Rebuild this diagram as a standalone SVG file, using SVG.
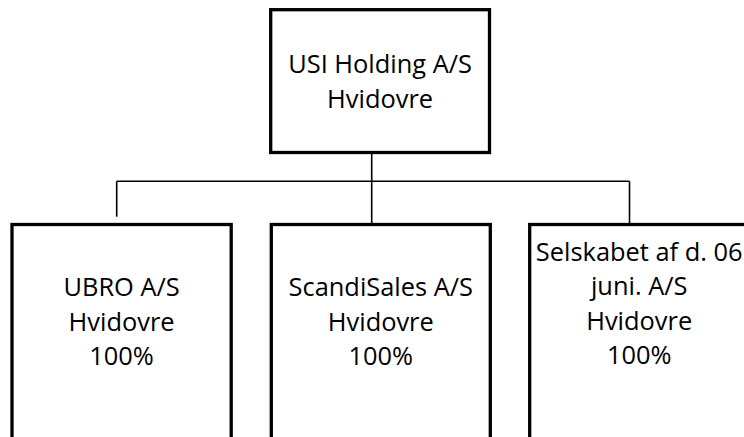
<svg xmlns="http://www.w3.org/2000/svg" width="744" height="437" viewBox="0 0 744 437">
  <style>
    .box { fill: #ffffff; stroke: #000000; stroke-width: 3.3; }
    .conn { fill: none; stroke: #000000; stroke-width: 1.6; }
    .lbl { font-family: "Open Sans", "Noto Sans", "DejaVu Sans", sans-serif; font-size: 25.4px; fill: #000000; text-anchor: middle; }
  </style>
  <rect width="744" height="437" fill="#ffffff"/>
  <g id="connectors">
    <path class="conn" d="M371.7,152.5 V224.5"/>
    <path class="conn" d="M116.7,181.3 H629.5"/>
    <path class="conn" d="M116.7,181.3 V216.7"/>
    <path class="conn" d="M629.5,181.3 V224"/>
  </g>
  <g id="usi-holding">
    <rect class="box" x="270.7" y="9.7" width="218.8" height="142.8"/>
    <text class="lbl" x="380.1" y="72.5">USI Holding A/S</text>
    <text class="lbl" x="380.1" y="107.5">Hvidovre</text>
  </g>
  <g id="ubro">
    <rect class="box" x="12" y="224.5" width="219.2" height="240"/>
    <text class="lbl" x="121.6" y="296">UBRO A/S</text>
    <text class="lbl" x="121.6" y="330.5">Hvidovre</text>
    <text class="lbl" x="121.6" y="365">100%</text>
  </g>
  <g id="scandisales">
    <rect class="box" x="271.3" y="224.5" width="219" height="240"/>
    <text class="lbl" x="380.8" y="296">ScandiSales A/S</text>
    <text class="lbl" x="380.8" y="330.5">Hvidovre</text>
    <text class="lbl" x="380.8" y="365">100%</text>
  </g>
  <g id="selskabet">
    <rect class="box" x="529.7" y="224.5" width="219" height="240"/>
    <text class="lbl" x="639.2" y="260.5">Selskabet af d. 06</text>
    <text class="lbl" x="639.2" y="295">juni. A/S</text>
    <text class="lbl" x="639.2" y="329.5">Hvidovre</text>
    <text class="lbl" x="639.2" y="364">100%</text>
  </g>
</svg>
